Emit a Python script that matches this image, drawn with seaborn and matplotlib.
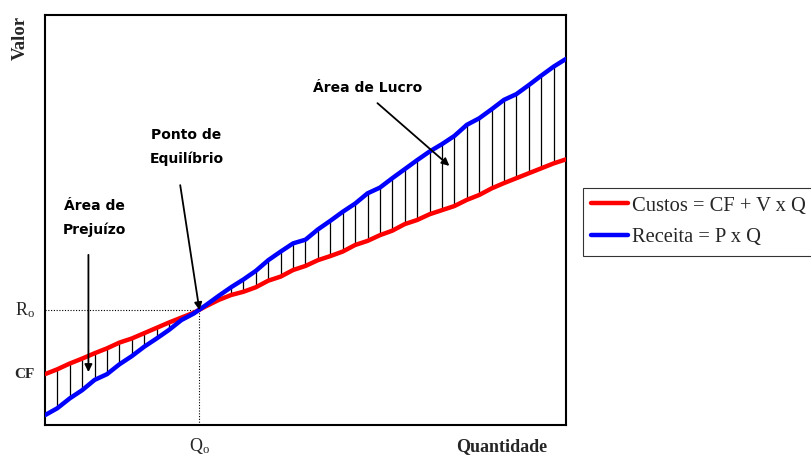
import numpy as np
import pandas as pd
import seaborn as sns
import matplotlib.pyplot as plt

# quantity steps (one per hatch line) and the two value curves
quantidade = list(range(43))
custos = [12.4, 13.6, 15.0, 16.2, 17.5, 18.7, 20.1, 21.1, 22.4, 23.7, 25.0,
          26.2, 27.4, 29.0, 30.5, 31.7, 32.5, 33.6, 35.2, 36.2, 37.8, 38.8,
          40.2, 41.2, 42.3, 43.9, 44.9, 46.3, 47.4, 49.0, 50.0, 51.4, 52.4,
          53.4, 54.9, 56.1, 57.7, 59.0, 60.2, 61.4, 62.6, 63.8, 64.8]
receita = [2.4, 4.1, 6.5, 8.5, 11.0, 12.4, 14.8, 16.8, 19.1, 21.1, 23.2,
           25.6, 27.2, 29.3, 31.5, 33.6, 35.5, 37.6, 40.2, 42.3, 44.3, 45.2,
           47.7, 49.8, 52.0, 54.0, 56.5, 57.9, 60.2, 62.4, 64.6, 66.7, 68.5,
           70.5, 73.2, 74.8, 77.0, 79.3, 80.7, 82.9, 85.2, 87.4, 89.3]
serie_labels = ["Custos = CF + V x Q", "Receita = P x Q"]
q_equilibrio = 12.45
r_equilibrio = 28.0
cf_valor = custos[0]

sns.set_style("white")
plt.rcParams["font.family"] = ["DejaVu Sans"]
plt.rcParams["mathtext.fontset"] = "custom"
plt.rcParams["mathtext.rm"] = "Liberation Serif"
plt.rcParams["mathtext.it"] = "Liberation Serif:italic"

W, H = 811, 455
fig = plt.figure(figsize=(W / 100, H / 100), dpi=100)
ax = fig.add_axes([45 / W, 1 - 425 / H, 521 / W, 410 / H])

df = pd.DataFrame({
    "Q": quantidade * 2,
    "Valor": custos + receita,
    "serie": [serie_labels[0]] * len(custos) + [serie_labels[1]] * len(receita),
})

# hatch lines between the curves
hq = [q for q in quantidade[1:-1] if abs(q - q_equilibrio) > 1]
ax.vlines(hq, [custos[q] for q in hq], [receita[q] for q in hq],
          color="black", lw=0.9, zorder=1)

sns.lineplot(data=df, x="Q", y="Valor", hue="serie",
             palette=["#ff0000", "#0000ff"], lw=3.2, ax=ax, zorder=3)

# dotted guide lines at the break-even point
ax.plot([0, q_equilibrio], [r_equilibrio, r_equilibrio], color="black", lw=0.8,
        ls=(0, (1, 1.5)), zorder=2)
ax.plot([q_equilibrio, q_equilibrio], [0, r_equilibrio], color="black", lw=0.8,
        ls=(0, (1, 1.5)), zorder=2)

ax.set_xlim(0, 42)
ax.set_ylim(0, 100)
ax.set_xticks([])
ax.set_yticks([])
ax.set_xlabel("")
ax.set_ylabel("")
for s in ax.spines.values():
    s.set_color("black")
    s.set_linewidth(1.5)

arrow = dict(arrowstyle="-|>", color="black", lw=1.3, mutation_scale=11,
             shrinkA=0, shrinkB=0)
note = dict(fontsize=10, fontweight="bold", ha="center", va="center",
            linespacing=1.9, color="black")

ax.annotate("", xy=(32.6, 63.2), xytext=(26.8, 78.5), arrowprops=arrow, zorder=5)
ax.text(26.0, 82.2, "Área de Lucro", **note)

ax.annotate("", xy=(q_equilibrio, r_equilibrio), xytext=(10.9, 58.5),
            arrowprops=arrow, zorder=5)
ax.text(11.4, 67.8, "Ponto de\nEquilíbrio", **note)

ax.annotate("", xy=(3.5, 12.9), xytext=(3.5, 41.5), arrowprops=arrow, zorder=5)
ax.text(4.0, 50.5, "Área de\nPrejuízo", **note)

serif = ["Liberation Serif", "DejaVu Serif"]
yax = ax.get_yaxis_transform()
xax = ax.get_xaxis_transform()
ax.text(-0.02, r_equilibrio, r"R$_\mathrm{o}$", transform=yax,
        ha="right", va="center", fontsize=13, family=serif)
ax.text(-0.02, cf_valor, "CF", transform=yax, ha="right", va="center",
        fontsize=11, fontweight="bold", family=serif)
ax.text(q_equilibrio, -0.05, r"Q$_\mathrm{o}$", transform=xax, ha="center",
        va="center", fontsize=13, family=serif)
fig.text(502 / W, 1 - 447 / H, "Quantidade", ha="center", va="center",
         fontsize=13, fontweight="bold", family=serif)
fig.text(20 / W, 1 - 38 / H, "Valor", ha="center", va="center", rotation=90,
         fontsize=13.5, fontweight="bold", family=serif)

leg = ax.legend(loc="upper left", bbox_to_anchor=(583 / W, 1 - 188 / H),
                bbox_transform=fig.transFigure, borderaxespad=0, frameon=True,
                fancybox=False, edgecolor="black", prop={"family": serif, "size": 14.8},
                handlelength=1.8, handletextpad=0.2, borderpad=0.4,
                labelspacing=0.6, title=None)
leg.get_frame().set_linewidth(0.8)

fig.savefig("out.png", dpi=100)
